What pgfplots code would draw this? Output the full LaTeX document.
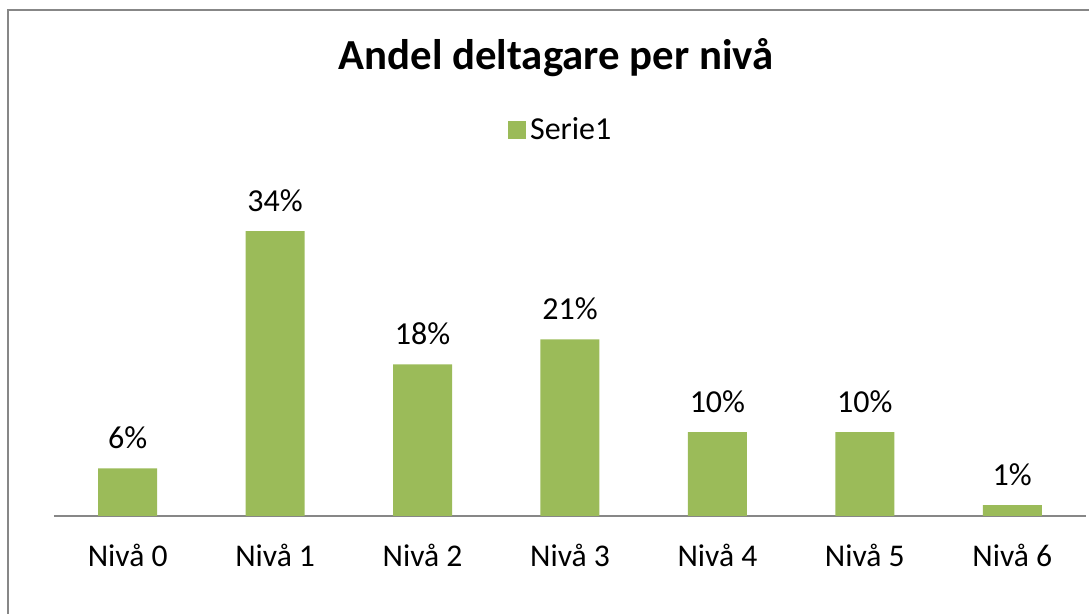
\documentclass[border=0pt]{standalone}
\usepackage{fontspec}
\setmainfont{Carlito}
\usepackage{pgfplots}
\pgfplotsset{compat=1.18}
\definecolor{barg}{HTML}{9BBB59}
\definecolor{frameg}{HTML}{878787}
\begin{document}
\begin{tikzpicture}[x=0.5pt,y=0.5pt]
\path[use as bounding box] (0,0) rectangle (1089,614);
\draw[frameg, line width=1pt] (8,0) -- (8,604) -- (1089,604);
\node[anchor=base, inner sep=0pt, font=\fontsize{21.4}{25}\selectfont\bfseries] at (556,544) {Andel deltagare per nivå};
\begin{axis}[
  at={(27pt,49pt)}, anchor=south west, scale only axis,
  width=516pt, height=167.5pt,
  xmin=-0.5, xmax=6.5, ymin=0, ymax=40,
  ybar, bar width=29.5pt,
  axis x line*=bottom, hide y axis,
  x axis line style={frameg, line width=1pt, -},
  xtick={0,1,2,3,4,5,6},
  xticklabels={Nivå 0,Nivå 1,Nivå 2,Nivå 3,Nivå 4,Nivå 5,Nivå 6},
  major tick length=0pt,
  xticklabel style={anchor=base, yshift=-25.5pt, font=\fontsize{15.8}{18}\selectfont},
  point meta=explicit symbolic,
  nodes near coords,
  nodes near coords style={anchor=base, yshift=10pt, font=\fontsize{16}{18}\selectfont, black},
  legend style={draw=none, at={(0.492,1.152)}, anchor=center, font=\fontsize{16}{18}\selectfont, inner sep=0pt},
  legend image code/.code={\fill[barg] (-6pt,-4.5pt) rectangle (3pt,4.5pt);},
  clip=false,
]
\addplot[fill=barg, draw=none] coordinates {
  (0,5.7) [6\%]
  (1,34.0) [34\%]
  (2,18.1) [18\%]
  (3,21.1) [21\%]
  (4,10.0) [10\%]
  (5,10.0) [10\%]
  (6,1.3) [1\%]
};
\addlegendentry{Serie1}
\end{axis}
\end{tikzpicture}
\end{document}
